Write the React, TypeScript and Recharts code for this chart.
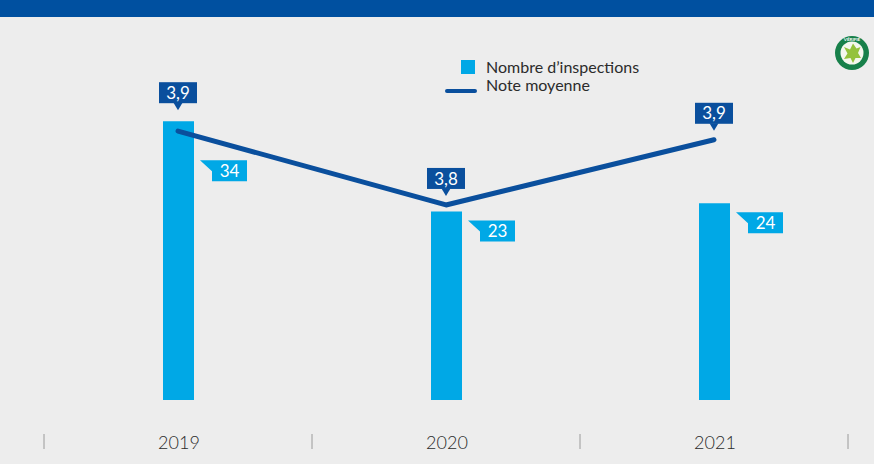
import React from 'react';
import { ComposedChart, Bar, Line, XAxis, YAxis, LabelList, Legend } from 'recharts';

// ---- data ----
const years = ['2019', '2020', '2021'];
const inspections = [34, 23, 24];
const notes = [3.915, 3.746, 3.895];
const noteLabels = ['3,9', '3,8', '3,9'];
const seriesNames = ['Nombre d\u2019inspections', 'Note moyenne'];

const data = years.map((y, i) => ({
  year: y,
  inspections: inspections[i],
  note: notes[i],
  noteLabel: noteLabels[i],
}));

// ---- layout / style ----
const W = 874;
const H = 464;
const M = { top: 72, right: 26, left: 44, bottom: 0 };
const XH = 64;
const PLOT_BOTTOM = H - XH;
const PLOT_H = PLOT_BOTTOM - M.top;
const BAR_DOMAIN: [number, number] = [0, 40];
const NOTE_DOMAIN: [number, number] = [3.3, 4.05];
const BAND = (W - M.left - M.right) / years.length;

const FONT = 'Lato, "Noto Sans", sans-serif';
const BG = '#ededed';
const HEADER = '#0050a0';
const LIGHT = '#00a8e6';
const DARK = '#0a4f9d';
const TEXT = '#2b2b2b';

const yBar = (v: number) => PLOT_BOTTOM - ((v - BAR_DOMAIN[0]) / (BAR_DOMAIN[1] - BAR_DOMAIN[0])) * PLOT_H;
const yNote = (v: number) => PLOT_BOTTOM - ((v - NOTE_DOMAIN[0]) / (NOTE_DOMAIN[1] - NOTE_DOMAIN[0])) * PLOT_H;
const crosses = (i: number) => yNote(notes[i]) > yBar(inspections[i]) - 5;

const num = (a: any, b: any) => (typeof a === 'number' ? a : Number(b));

const NoteLabel = (props: any) => {
  const vb = props.viewBox || {};
  const x = num(vb.x, props.x);
  const y = num(vb.y, props.y);
  const index = props.index as number;
  const tip = crosses(index) ? yBar(inspections[index]) - 11 : y - 9;
  const bw = 38, bh = 21, th = 7, tw = 9;
  const top = tip - th - bh;
  return (
    <g>
      <rect x={x - bw / 2} y={top} width={bw} height={bh} fill={DARK} />
      <polygon points={`${x - tw / 2},${top + bh - 0.5} ${x + tw / 2},${top + bh - 0.5} ${x},${tip}`} fill={DARK} />
      <text x={x} y={top + bh / 2} dy="0.36em" textAnchor="middle" fill="#fff" fontSize={17} fontFamily={FONT}>
        {noteLabels[index]}
      </text>
    </g>
  );
};

const CountLabel = (props: any) => {
  const vb = props.viewBox || {};
  const x = num(vb.x, props.x);
  const y = num(vb.y, props.y);
  const w = num(vb.width, props.width);
  const index = props.index as number;
  const R = x + w;
  const top = crosses(index) ? y + 39 : y + 9;
  const bh = 21;
  const pts = [
    [R + 6, top],
    [R + 53, top],
    [R + 53, top + bh],
    [R + 18, top + bh],
    [R + 18, top + 11],
  ]
    .map((p) => p.join(','))
    .join(' ');
  return (
    <g>
      <polygon points={pts} fill={LIGHT} />
      <text x={R + 35.5} y={top + bh / 2} dy="0.36em" textAnchor="middle" fill="#fff" fontSize={17} fontFamily={FONT}>
        {inspections[index]}
      </text>
    </g>
  );
};

const YearTick = (props: any) => {
  const { x, payload, index } = props;
  const last = index === years.length - 1;
  return (
    <g>
      <text x={x + 1} y={PLOT_BOTTOM + 49} textAnchor="middle" fill={TEXT} fontSize={18} fontWeight={300} fontFamily={FONT}>
        {payload.value}
      </text>
      <line x1={x - BAND / 2} x2={x - BAND / 2} y1={PLOT_BOTTOM + 34} y2={PLOT_BOTTOM + 49} stroke="#9a9a9a" strokeWidth={1} />
      {last && (
        <line x1={x + BAND / 2} x2={x + BAND / 2} y1={PLOT_BOTTOM + 34} y2={PLOT_BOTTOM + 49} stroke="#9a9a9a" strokeWidth={1} />
      )}
    </g>
  );
};

const LegendContent = () => (
  <svg width={240} height={50} style={{ display: 'block' }}>
    <rect x={21} y={10} width={14} height={14} fill={LIGHT} />
    <text x={46} y={23} fontSize={16} fill={TEXT} fontFamily={FONT}>
      {seriesNames[0]}
    </text>
    <line x1={7} x2={35} y1={41} y2={41} stroke={DARK} strokeWidth={4} strokeLinecap="round" />
    <text x={46} y={41} fontSize={16} fill={TEXT} fontFamily={FONT}>
      {seriesNames[1]}
    </text>
  </svg>
);

const Logo = () => (
  <svg width={40} height={40} style={{ position: 'absolute', left: 832, top: 33 }}>
    <circle cx={20} cy={20} r={17} fill="#17804a" />
    <circle cx={20} cy={20} r={11.5} fill="#f4f7ee" />
    <path
      d="M12 14 L18 16.5 L21 10.5 L24.5 15.5 L28.5 14 L26 20 L29 25 L23.5 25 L21 30 L18.5 25 L12 26 L15.5 20.5 Z"
      fill="#94c23c"
    />
    <text x={20} y={8} textAnchor="middle" fontSize={4.5} fill="#fff" fontFamily={FONT} fontWeight={700}>
      VÉRIFIÉ
    </text>
  </svg>
);

export default function App() {
  return (
    <div style={{ position: 'absolute', left: 0, top: 0, width: W, height: H, background: BG, overflow: 'hidden' }}>
      <div style={{ position: 'absolute', left: 0, top: 0, width: W, height: 17, background: HEADER }} />
      <Logo />
      <ComposedChart width={W} height={H} data={data} margin={M}>
        <XAxis
          dataKey="year"
          height={XH}
          axisLine={false}
          tickLine={false}
          interval={0}
          tick={(p: any) => <YearTick {...p} />}
        />
        <YAxis yAxisId="left" domain={BAR_DOMAIN} hide />
        <YAxis yAxisId="right" orientation="right" domain={NOTE_DOMAIN} hide allowDataOverflow />
        <Legend
          layout="horizontal"
          verticalAlign="middle"
          align="center"
          wrapperStyle={{ top: 50, left: 440, width: 240 }}
          content={() => <LegendContent />}
        />
        <Bar yAxisId="left" dataKey="inspections" name={seriesNames[0]} fill={LIGHT} barSize={31} isAnimationActive={false}>
          <LabelList dataKey="inspections" content={(p: any) => <CountLabel {...p} />} />
        </Bar>
        <Line
          yAxisId="right"
          type="linear"
          dataKey="note"
          name={seriesNames[1]}
          stroke={DARK}
          strokeWidth={5}
          strokeLinecap="round"
          strokeLinejoin="round"
          dot={false}
          activeDot={false}
          isAnimationActive={false}
        >
          <LabelList dataKey="noteLabel" content={(p: any) => <NoteLabel {...p} />} />
        </Line>
      </ComposedChart>
    </div>
  );
}
